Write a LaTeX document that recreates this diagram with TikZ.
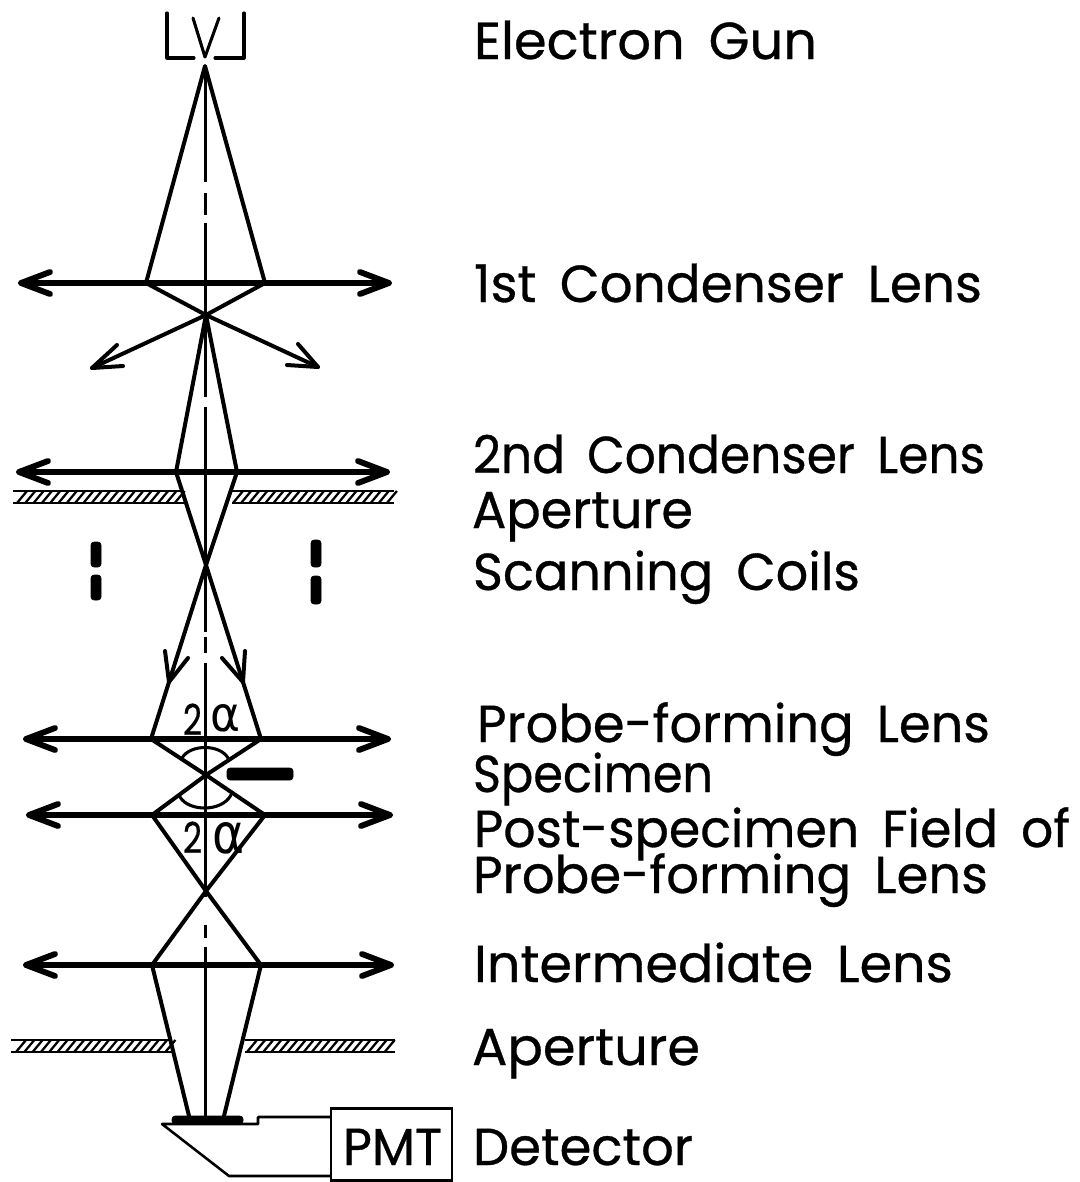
\documentclass[tikz,border=0pt]{standalone}
\usepackage{fontspec}
\usepackage{graphicx}
\setmainfont{Poppins}
\newfontfamily\lblfont[FakeBold=0.6,WordSpace=1.7]{Poppins}
\newfontfamily\greekfont{DejaVu Sans}
\newcommand{\fitw}[2]{\resizebox{\dimexpr #1pt*3/4\relax}{\height}{#2}}
\newcommand{\fitwh}[3]{\resizebox{\dimexpr #1pt*3/4\relax}{\dimexpr #2pt*3/4\relax}{#3}}
\tikzset{
 every node/.style={inner sep=0pt,outer sep=0pt},
 lbl/.style={anchor=base west,font=\lblfont\fontsize{39pt}{39pt}\selectfont},
 ray/.style={line width=3pt,line cap=round,line join=round},
 thin ray/.style={line width=2.3pt,line cap=round,line join=round},
 axisline/.style={line width=1.9pt},
 lensline/.style={line width=4.2pt,line cap=round},
 tip/.style={line width=4.4pt,line cap=round,line join=round},
 wall/.style={line width=1.9pt},
 hatch/.style={line width=1.7pt},
 bar/.style={fill=black,rounded corners=2.2pt},
}
\begin{document}
\begin{tikzpicture}[x=0.75pt,y=-0.75pt]
\useasboundingbox (0,0) rectangle (1080,1182);
% key points
\coordinate (apex) at (205,66);
\coordinate (a1l) at (146,283); \coordinate (a1r) at (265,283);
\coordinate (x1) at (206,315);
\coordinate (s1l) at (92,368); \coordinate (s1r) at (318,367);
\coordinate (a2l) at (176,472); \coordinate (a2r) at (237,472);
\coordinate (x2) at (206,565);
\coordinate (m3l) at (169,682); \coordinate (m3r) at (243,682);
\coordinate (a3l) at (151,739); \coordinate (a3r) at (261,739);
\coordinate (x3) at (206,775);
\coordinate (a4l) at (152,815); \coordinate (a4r) at (265,815);
\coordinate (x4) at (206,891);
\coordinate (a5l) at (152,965); \coordinate (a5r) at (261,965);
\coordinate (d5l) at (189,1116); \coordinate (d5r) at (224,1116);
% axis
\foreach \ya/\yb in {65/182,193/215,223/397,407/632,637/653,663/897,925/938,947/1116}
  \draw[axisline] (205.5,\ya) -- (205.5,\yb);
% gun
\draw[thin ray] (167,13) -- (167,58) -- (194,58);
\draw[thin ray] (244,13) -- (244,58) -- (215,58);
\draw[thin ray] (193,18) -- (205,57) -- (219,18);
% lenses
\foreach \xa/\xb/\yy in {21/389/283,19/387/472,26/388/739,29/390/815,26/391/965}{
  \draw[lensline] (\xa,\yy) -- (\xb,\yy);
  \draw[tip] (\xa+29,\yy-11) -- (\xa,\yy) -- (\xa+29,\yy+11);
  \draw[tip] (\xb-29,\yy-11) -- (\xb,\yy) -- (\xb-29,\yy+11);
}
% rays
\draw[ray] (a1l) -- (apex) -- (a1r);
\draw[ray] (a1l) -- (x1) -- (s1r);
\draw[ray] (a1r) -- (x1) -- (s1l);
\draw[ray] (117,345) -- (s1l) -- (123,366);
\draw[ray] (298,344) -- (s1r) -- (287,365);
\draw[ray] (a2l) -- (x1) -- (a2r);
\draw[ray] (a2l) -- (x2) -- (m3r) -- (a3r);
\draw[ray] (a2r) -- (x2) -- (m3l) -- (a3l);
\draw[ray] (165,651) -- (m3l) -- (188,658);
\draw[ray] (245,651) -- (m3r) -- (222,658);
\draw[ray] (a3l) -- (x3) -- (a4r) -- (x4) -- (a5l) -- (d5l);
\draw[ray] (a3r) -- (x3) -- (a4l) -- (x4) -- (a5r) -- (d5r);
% angle arcs
\draw[thin ray] (182,758) .. controls (190,744) and (220,744) .. (228,758);
\draw[thin ray] (180,797) .. controls (189,812) and (222,812) .. (231,795);
% apertures
\draw[wall] (13,491) -- (182,491) (13,503) -- (184,503);
\draw[wall] (232,491) -- (394,491) (232,503) -- (394,503);
\foreach \i in {0,...,19} \draw[hatch] (17+\i*8.3,503) -- (27+\i*8.3,491);
\foreach \i in {0,...,19} \draw[hatch] (233+\i*8.1,503) -- (243+\i*8.1,491);
\draw[wall] (11,1040) -- (171,1040) (11,1052) -- (174,1052);
\draw[wall] (245,1040) -- (395,1040) (245,1052) -- (395,1052);
\foreach \i in {0,...,18} \draw[hatch] (16+\i*8.3,1052) -- (26+\i*8.3,1040);
\foreach \i in {0,...,17} \draw[hatch] (247+\i*8.1,1052) -- (257+\i*8.1,1040);
% coils
\draw[bar] (91,542) rectangle (101,567);
\draw[bar] (91,575) rectangle (101,600);
\draw[bar] (311,540) rectangle (321,567);
\draw[bar] (311,576) rectangle (321,604);
% specimen
\draw[bar] (227,768) rectangle (293,780);
% detector
\draw[bar] (172,1116) rectangle (243,1124);
\node[draw,line width=1.9pt,minimum width=90.75pt,minimum height=54pt,anchor=north west] (pmt) at (331,1108.5) {};
\coordinate (pu) at (pmt.north west |- 0,1117);
\coordinate (pl) at (pmt.north west |- 0,1176);
\draw[wall,line join=round] (pu) -- (258,1117) -- (258,1124) -- (162,1124) -- (229,1176) -- (pl);
\node[lbl] (pmtl) at (343,1165) {\fitw{99}{PMT}};
% angle labels
\node[anchor=base west,font=\lblfont\fontsize{32pt}{32pt}\selectfont] (al2a) at (183,735) {\fitw{19}{2}};
\node[anchor=base west,font=\lblfont\fontsize{32pt}{32pt}\selectfont] (al2b) at (183,853) {\fitw{19}{2}};
\node[anchor=base west,font=\greekfont\fontsize{40pt}{40pt}\selectfont] (ala) at (210,731) {\fitwh{30}{27}{α}};
\node[anchor=base west,font=\greekfont\fontsize{40pt}{40pt}\selectfont] (alb) at (212,853) {\fitwh{32}{31}{α}};
% labels
\node[lbl] (t1) at (474,59) {\fitw{343}{Electron Gun}};
\node[lbl] (t2) at (474,302) {\fitw{508}{1st Condenser Lens}};
\node[lbl] (t3) at (473,473) {\fitw{512}{2nd Condenser Lens}};
\node[lbl] (t4) at (472,528) {\fitw{221}{Aperture}};
\node[lbl] (t5) at (473,590) {\fitw{387}{Scanning Coils}};
\node[lbl] (t6) at (477,742) {\fitw{513}{Probe-forming Lens}};
\node[lbl] (t7) at (473,792) {\fitw{240}{Specimen}};
\node[lbl] (t8) at (474,847) {\fitw{596}{Post-specimen Field of}};
\node[lbl] (t9) at (473,893) {\fitw{515}{Probe-forming Lens}};
\node[lbl] (t10) at (474,982) {\fitw{479}{Intermediate Lens}};
\node[lbl] (t11) at (472,1065) {\fitw{228}{Aperture}};
\node[lbl] (t12) at (473,1165) {\fitw{220}{Detector}};
\end{tikzpicture}
\end{document}
